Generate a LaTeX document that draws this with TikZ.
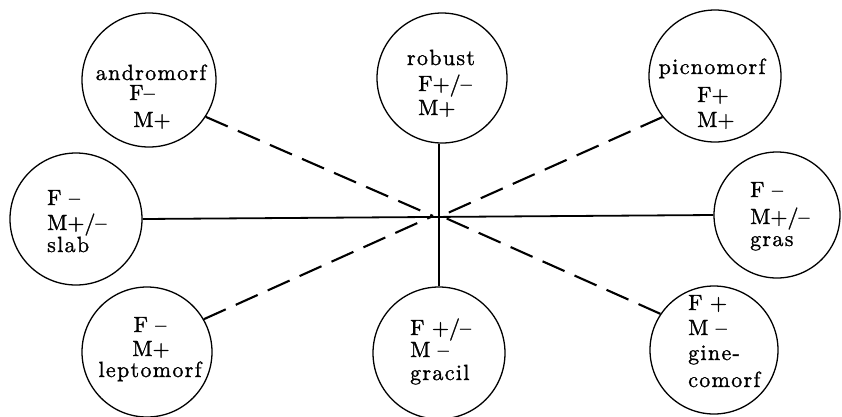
\documentclass[tikz,border=0pt]{standalone}
\usepackage{fontspec}
\setmainfont{lmroman10-regular.otf}[FakeBold=1.2]
\newfontfamily\lsp{lmroman10-regular.otf}[LetterSpace=6,FakeBold=1.2]
\begin{document}
\begin{tikzpicture}[x=1pt,y=-1pt,
  ring/.style={circle,draw,line width=1.3pt,inner sep=0pt},
  lbl/.style={inner sep=0pt,font=\fontsize{22}{24}\selectfont},
  wd/.style={inner sep=0pt,font=\fontsize{22}{24}\selectfont\lsp},
  solidlink/.style={line width=1.8pt},
  dashlink/.style={line width=2.1pt,dash pattern=on 24pt off 11pt}]
\useasboundingbox (0,0) rectangle (842,416);
% circles
\node[ring,minimum size=134pt] (andro)  at (149,80)  {};
\node[ring,minimum size=130pt] (robust) at (442,78)  {};
\node[ring,minimum size=132pt] (picno)  at (715,76)  {};
\node[ring,minimum size=132pt] (slab)   at (76,219)  {};
\node[ring,minimum size=126pt] (gras)   at (777,215) {};
\node[ring,minimum size=130pt] (lepto)  at (147,352) {};
\node[ring,minimum size=132pt] (gracil) at (439,353) {};
\node[ring,minimum size=128pt] (gine)   at (714,350) {};
% hub
\coordinate (hubL) at (433,216);
\coordinate (hubR) at (441,216);
% connectors
\draw[solidlink] (slab.east) -- (gras.west);
\draw[solidlink] (gracil.north) -- (gracil.north |- robust.south);
\draw[dashlink] (andro.327) -- (hubL);
\draw[dashlink] (lepto.30) -- (hubL);
\draw[dashlink] (picno.218) -- (hubR);
\draw[dashlink] (gine.146) -- (hubR);
% texts
\node[wd,anchor=base] (andro1) at (151,80) {andromorf};
\node[lbl,anchor=base] (andro2) at (142,100) {F–};
\node[lbl,anchor=base] (andro3) at (152,127) {M+};

\node[wd,anchor=base] (robust1) at (441,65) {robust};
\node[lbl,anchor=base west] (robust2) at (418,91) {F+/–};
\node[lbl,anchor=base west] (robust3) at (418,115) {M+};

\node[wd,anchor=base] (picno1) at (712,74) {picnomorf};
\node[lbl,anchor=base west] (picno2) at (697,102) {F+};
\node[lbl,anchor=base west] (picno3) at (697,127) {M+};

\node[lbl,anchor=base west] (slab1) at (47,205) {F –};
\node[lbl,anchor=base west] (slab2) at (47,230) {M+/–};
\node[wd,anchor=base west] (slab3) at (47,252) {slab};

\node[lbl,anchor=base west] (gras1) at (750,197) {F –};
\node[lbl,anchor=base west] (gras2) at (750,224) {M+/–};
\node[wd,anchor=base west] (gras3) at (750,246) {gras};

\node[lbl,anchor=base] (lepto1) at (150,332) {F –};
\node[lbl,anchor=base] (lepto2) at (151,356) {M+};
\node[wd,anchor=base] (lepto3) at (150,377) {leptomorf};

\node[lbl,anchor=base west] (gracil1) at (410,335) {F +/–};
\node[lbl,anchor=base west] (gracil2) at (410,357) {M –};
\node[wd,anchor=base west] (gracil3) at (410,380) {gracil};

\node[lbl,anchor=base west] (gine1) at (688,310) {F +};
\node[lbl,anchor=base west] (gine2) at (688,335) {M –};
\node[wd,anchor=base west] (gine3) at (688,360) {gine-};
\node[wd,anchor=base west] (gine4) at (688,387) {comorf};
\end{tikzpicture}
\end{document}
